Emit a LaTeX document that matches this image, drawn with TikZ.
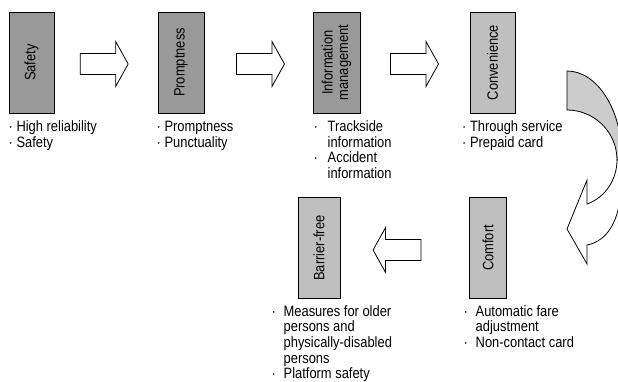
\documentclass[tikz,border=0pt]{standalone}
\usepackage{fontspec}
\setmainfont{Liberation Sans}[FakeStretch=0.86]
\usetikzlibrary{calc,positioning}

\newcommand{\boxfont}{\fontsize{15}{15.7}\selectfont}
\newcommand{\bul}[1][12pt]{\makebox[#1][l]{·}}
\newcommand{\ind}[1][12pt]{\hspace*{#1}}
% block arrow pointing right, centred at #2
\newcommand{\fatarrow}[2][]{\draw[fat,shift={(#2)},#1] (-24,-10.5) -- (11.5,-10.5) -- (11.5,-22.5) -- (24,0) -- (11.5,22.5) -- (11.5,10.5) -- (-24,10.5) -- cycle;}

\begin{document}
\begin{tikzpicture}[x=1pt,y=-1pt,font=\boxfont,
  box/.style={draw,line width=0.8pt,minimum width=101pt,inner sep=0pt,rotate=90,align=center},
  dark/.style={box,fill=black!40},
  light/.style={box,fill=black!25},
  note/.style={anchor=base west,inner sep=0pt},
  fat/.style={draw,line width=0.8pt,fill=white,line join=miter}]
\useasboundingbox (0,0) rectangle (618,382);

\node[dark,minimum height=45pt] (safety) at (31.5,62.5) {Safety};
\node[dark,minimum height=46pt] (prompt) at (181,62.5) {Promptness};
\node[dark,minimum height=47pt] (info) at (336.5,62.5) {Information\\management};
\node[light,minimum height=45pt] (conv) at (492.5,62.5) {Convenience};
\node[light,minimum height=37pt] (comfort) at (488,248) {Comfort};
\node[light,minimum height=42pt] (barrier) at (319,248) {Barrier-free};

\node[note] (safetynote) at (8.5,131.5) {\begin{tabular}[t]{@{}l@{}}· High reliability\\· Safety\end{tabular}};
\node[note] (promptnote) at (156.5,131.5) {\begin{tabular}[t]{@{}l@{}}· Promptness\\· Punctuality\end{tabular}};
\node[note] (infonote) at (313.5,131.5) {\begin{tabular}[t]{@{}l@{}}\bul[14pt]Trackside\\\ind[14pt]information\\\bul[14pt]Accident\\\ind[14pt]information\end{tabular}};
\node[note] (convnote) at (462,131.5) {\begin{tabular}[t]{@{}l@{}}· Through service\\· Prepaid card\end{tabular}};
\node[note] (barriernote) at (271.5,316) {\begin{tabular}[t]{@{}l@{}}\bul Measures for older\\\ind persons and\\\ind physically-disabled\\\ind persons\\\bul Platform safety\end{tabular}};
\node[note] (comfortnote) at (463.5,316) {\begin{tabular}[t]{@{}l@{}}\bul Automatic fare\\\ind adjustment\\\bul Non-contact card\end{tabular}};

\coordinate (a1) at ($(safety)!0.486!(prompt)+(0,1.5)$);
\coordinate (a2) at ($(prompt)!0.511!(info)+(0,1.5)$);
\coordinate (a3) at ($(info)!0.5!(conv)+(0,1.5)$);
\coordinate (a4) at ($(comfort)!0.538!(barrier)+(0,2)$);
\fatarrow{a1}
\fatarrow{a2}
\fatarrow{a3}
\fatarrow[xscale=-1]{a4}

% curved arrow from Convenience down to Comfort
\begin{scope}
\clip (0,0) rectangle (618,382);
\draw[line width=0.8pt,fill=black!20] (567,71) .. controls (597.4,71) and (622,110) .. (622,158) -- (617,160) .. controls (617,132.4) and (594.6,110) .. (567,110) -- cycle;
\draw[fat] (617,160) .. controls (617,179.4) and (605.4,197.5) .. (587,204) -- (587,180) -- (567,229) -- (587,264) -- (587,245) .. controls (603,242) and (616,228) .. (620,200) -- (630,160) -- cycle;
\end{scope}
\end{tikzpicture}
\end{document}
